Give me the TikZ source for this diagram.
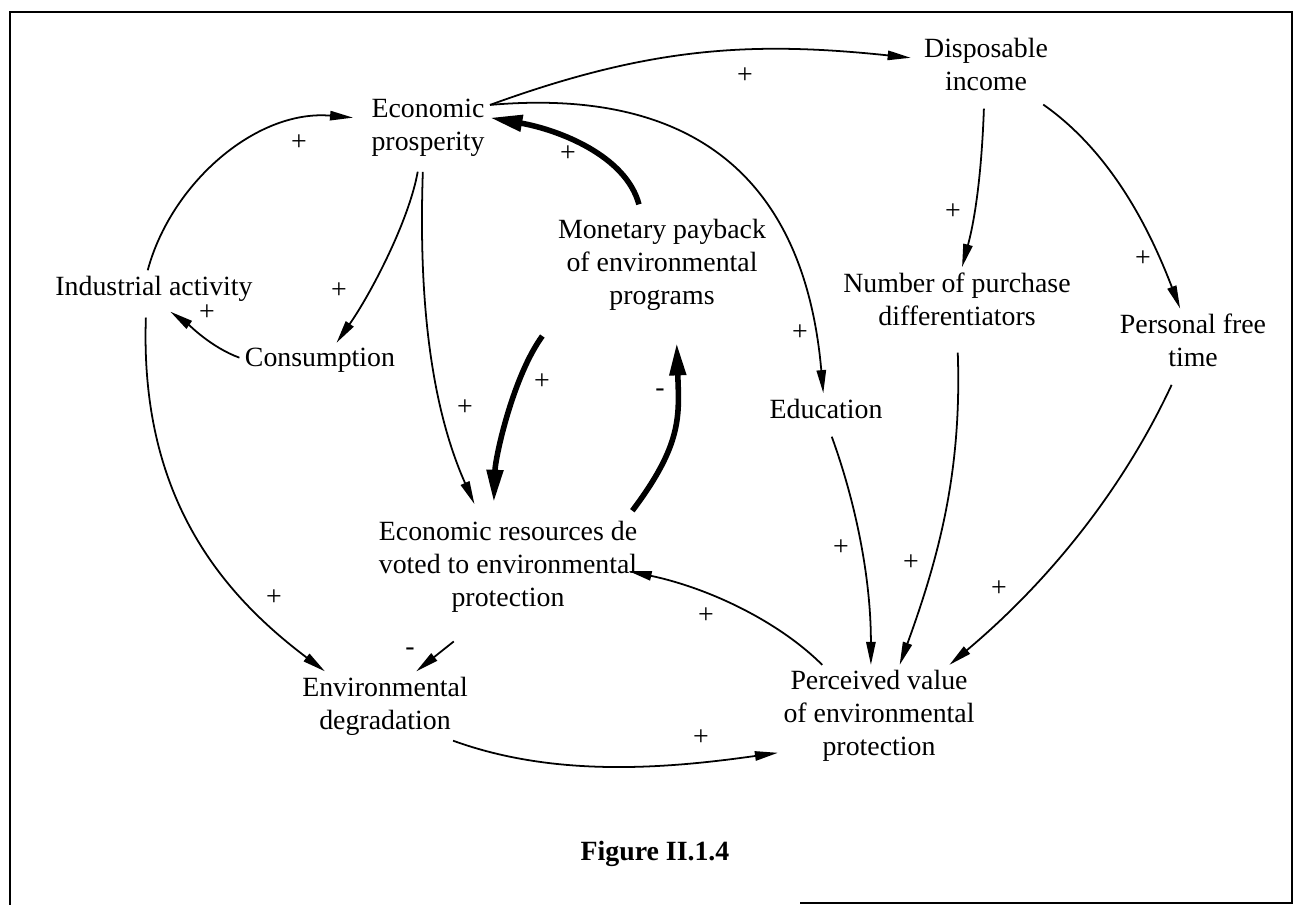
\documentclass[tikz,border=0pt]{standalone}
\usepackage{fontspec}
\setmainfont{Liberation Serif}
\usetikzlibrary{arrows.meta}

\tikzstyle{var} = [align=center, inner sep=2pt, font=\fontsize{11}{13}\selectfont]
\tikzstyle{sign} = [inner sep=1pt, font=\fontsize{11}{13}\selectfont]
\tikzstyle{link} = [line width=0.7pt, -{Triangle[length=0.32cm, width=0.13cm]}]
\tikzstyle{strong} = [line width=2.2pt, -{Triangle[length=0.45cm, width=0.22cm]}]

\begin{document}
\begin{tikzpicture}[x=0.0138889cm, y=-0.0138889cm]
  \useasboundingbox (0,0) rectangle (1296,905);
  \draw[line width=0.8pt] (10,905) -- (10,12) -- (1292,12) -- (1292,903) -- (800,903);

  \node[var] (econ) at (428,127.5) {Economic\\prosperity};
  \node[var] (disp) at (986,64.5) {Disposable\\income};
  \node[var] (indus) at (154,288.5) {Industrial activity};
  \node[var] (cons) at (320,360.5) {Consumption};
  \node[var] (mon) at (662,264.5) {Monetary payback\\of environmental\\programs};
  \node[var] (numb) at (957,299) {Number of purchase\\differentiators};
  \node[var] (pers) at (1193,340.5) {Personal free\\time};
  \node[var] (edu) at (826,408.5) {Education};
  \node[var] (res) at (508,567) {Economic resources de\\voted to environmental\\protection};
  \node[var] (deg) at (385,706) {Environmental\\degradation};
  \node[var] (perc) at (879,716) {Perceived value\\of environmental\\protection};
  \node[font=\bfseries\fontsize{11}{13}\selectfont] (title) at (655,853.5) {Figure II.1.4};

  \draw[link, shorten >=0.11cm] (econ.20) .. controls +(20:2.35cm) and +(174:2.35cm) .. (disp.175);
  \draw[link] (econ.20) .. controls +(5:3.05cm) and +(95:2.78cm) .. (edu.100);
  \draw[strong, shorten <=0.13cm] (mon.112) .. controls +(105:0.83cm) and +(-10:0.97cm) .. (econ.9);
  \draw[link, shorten >=0.18cm] (indus.109) .. controls +(75:1.25cm) and +(175:1.53cm) .. (econ.172);
  \draw[link, shorten <=0.14cm] (econ.256) .. controls +(260:0.83cm) and +(55:0.83cm) .. (cons.47);
  \draw[link, shorten >=0.12cm] (cons.178) .. controls +(160:0.42cm) and +(-35:0.42cm) .. (indus.-63);
  \draw[link, shorten <=0.14cm, shorten >=0.18cm] (econ.262) .. controls +(268:1.67cm) and +(114:1.8cm) .. (res.119);
  \draw[strong, shorten <=0.35cm, shorten >=0.19cm] (mon.206) .. controls +(234:1.04cm) and +(88:0.83cm) .. (res.106);
  \draw[strong, shorten <=0.09cm, shorten >=0.38cm] (res.23) .. controls +(53:1.25cm) and +(-88:1.39cm) .. (mon.-75);
  \draw[link, shorten <=0.15cm] (indus.247) .. controls +(268:2.64cm) and +(143:1.8cm) .. (deg.150);
  \draw[link, shorten <=0.52cm] (res.244) -- (deg.48);
  \draw[link] (deg.-27) .. controls +(-20:1.53cm) and +(188:1.53cm) .. (perc.200);
  \draw[link, shorten >=-0.2cm] (perc.138) .. controls +(135:0.83cm) and +(-12:0.97cm) .. (res.-3);
  \draw[link, shorten <=0.19cm] (edu.274) .. controls +(-70:1.11cm) and +(90:1.25cm) .. (perc.99);
  \draw[link, shorten <=0.3cm] (numb.south) .. controls +(272:1.9cm) and +(70:1.67cm) .. (perc.68);
  \draw[link, shorten <=0.19cm] (pers.244) .. controls +(245:1.8cm) and +(40:1.8cm) .. (perc.36);
  \draw[link, shorten <=0.17cm] (disp.267) .. controls +(268:0.83cm) and +(75:0.83cm) .. (numb.81);
  \draw[link, shorten <=0.2cm] (disp.-35) .. controls +(-35:1.39cm) and +(111:1.11cm) .. (pers.112);

  \foreach \x/\y/\s [count=\i] in {745/76/+, 800/333/+, 568/154/+, 299/143/+, 339/291/+, 207/313/+,
      465/408/+, 542/382/+, 660/393/-, 274/598/+, 410/652/-, 701/738/+, 706/616/+, 841/548/+,
      911/563/+, 999/589/+, 953/212/+, 1143/259/+} {
    \node[sign] (s\i) at (\x,\y) {\s};
  }
\end{tikzpicture}
\end{document}
